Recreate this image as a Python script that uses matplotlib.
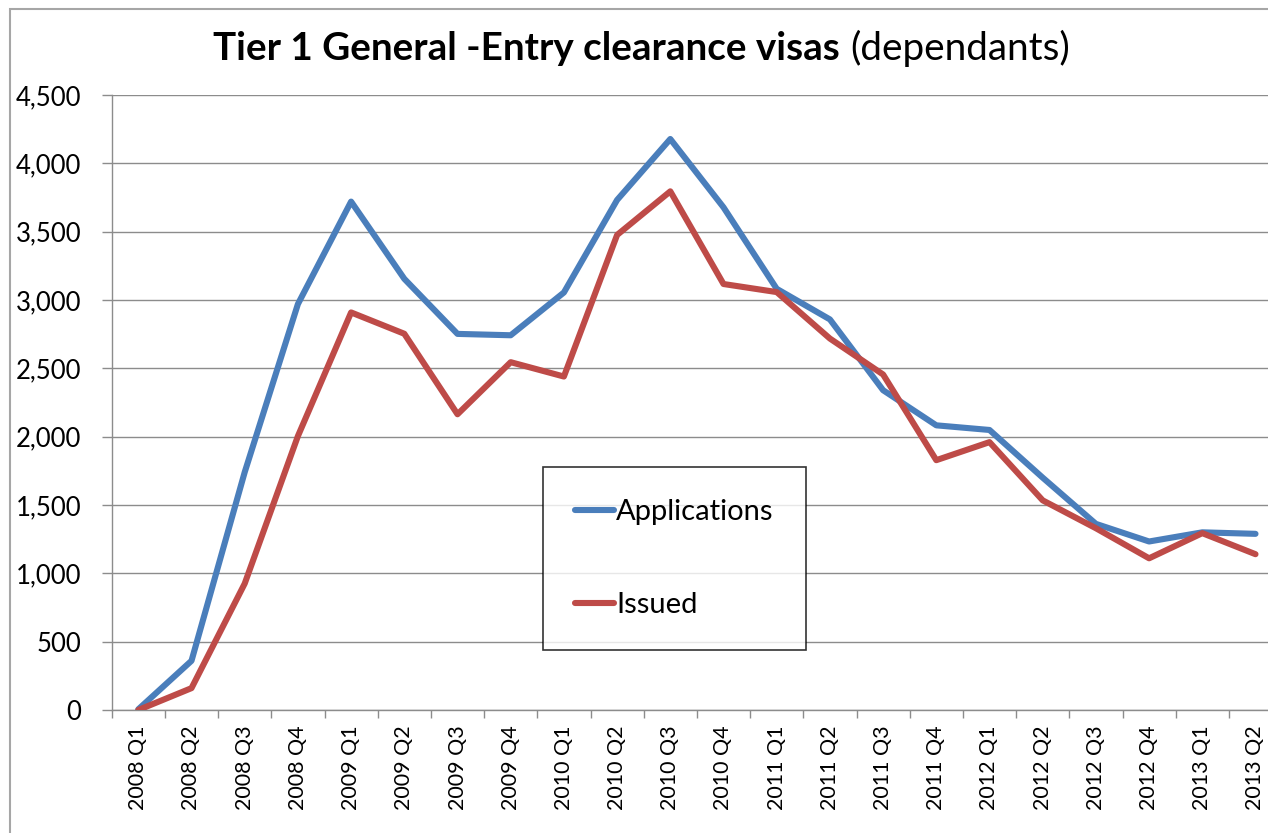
import matplotlib
matplotlib.use("Agg")
import matplotlib.pyplot as plt
from matplotlib.patches import Rectangle
import numpy as np

plt.rcParams['font.family'] = ['Lato', 'DejaVu Sans']

quarters = ['2008 Q1', '2008 Q2', '2008 Q3', '2008 Q4',
            '2009 Q1', '2009 Q2', '2009 Q3', '2009 Q4',
            '2010 Q1', '2010 Q2', '2010 Q3', '2010 Q4',
            '2011 Q1', '2011 Q2', '2011 Q3', '2011 Q4',
            '2012 Q1', '2012 Q2', '2012 Q3', '2012 Q4',
            '2013 Q1', '2013 Q2']
applications = [5, 360, 1740, 2970, 3720, 3155, 2752, 2742,
                3055, 3732, 4178, 3678, 3082, 2858, 2340, 2083,
                2049, 1700, 1362, 1233, 1300, 1289]
issued = [0, 160, 925, 2004, 2909, 2753, 2164, 2545,
          2440, 3476, 3795, 3117, 3058, 2718, 2455, 1828,
          1960, 1534, 1330, 1110, 1294, 1140]
yticks = [0, 500, 1000, 1500, 2000, 2500, 3000, 3500, 4000, 4500]

W, H = 1268, 833
fig = plt.figure(figsize=(W / 100, H / 100), dpi=100)

# outer chart border (cut off at right/bottom like the screenshot)
fig.patches.append(Rectangle((10 / W, -0.1), 1.2, (H - 9) / H + 0.1,
                             transform=fig.transFigure, fill=False,
                             edgecolor='#a6a6a6', linewidth=1.5))

ax = fig.add_axes([111.7 / W, 123 / H, 1170.4 / W, 615 / H])

x = np.arange(len(quarters))
ax.plot(x, applications, color='#4a7ebb', lw=4.4, solid_joinstyle='round',
        solid_capstyle='round', label='Applications', zorder=3)
ax.plot(x, issued, color='#be4b48', lw=4.4, solid_joinstyle='round',
        solid_capstyle='round', label='Issued', zorder=3)

ax.set_xlim(-0.5, len(quarters) - 0.5)
ax.set_ylim(0, 4500)
ax.set_yticks(yticks)
ax.set_yticklabels([f'{v:,}' for v in yticks], fontsize=18.5)
ax.set_xticks(x)
ax.set_xticklabels(quarters, rotation=90, fontsize=15.5)
ax.set_xticks(np.arange(-0.5, len(quarters)), minor=True)

ax.grid(axis='y', color='#8c8c8c', linewidth=1)
ax.set_axisbelow(True)
for s in ['top', 'right']:
    ax.spines[s].set_visible(False)
for s in ['left', 'bottom']:
    ax.spines[s].set_color('#8c8c8c')
    ax.spines[s].set_linewidth(1)

ax.tick_params(axis='y', length=7, width=1, color='#8c8c8c', pad=15)
ax.tick_params(axis='x', which='major', length=0, pad=11)
ax.tick_params(axis='x', which='minor', length=6, width=1, color='#8c8c8c')

leg = ax.legend(loc='upper left', bbox_to_anchor=(543.3 / W, 1 - 466.7 / H),
                bbox_transform=fig.transFigure, borderaxespad=0,
                fontsize=21, frameon=True, fancybox=False,
                borderpad=1.1, labelspacing=2.3, handlelength=1.32,
                handletextpad=0.08)
leg.get_frame().set_edgecolor('black')
leg.get_frame().set_linewidth(1.2)

# title: bold part + regular part
t1 = fig.text(213 / W, 1 - 60 / H, 'Tier 1 General -Entry clearance visas',
              fontsize=27.8, fontweight='bold', ha='left', va='baseline')
renderer = fig.canvas.get_renderer()
bb = t1.get_window_extent(renderer)
fig.text(bb.x1 / W + 11 / W, 1 - 60 / H, '(dependants)',
         fontsize=27.8, ha='left', va='baseline')

fig.savefig('out.png', dpi=100)
